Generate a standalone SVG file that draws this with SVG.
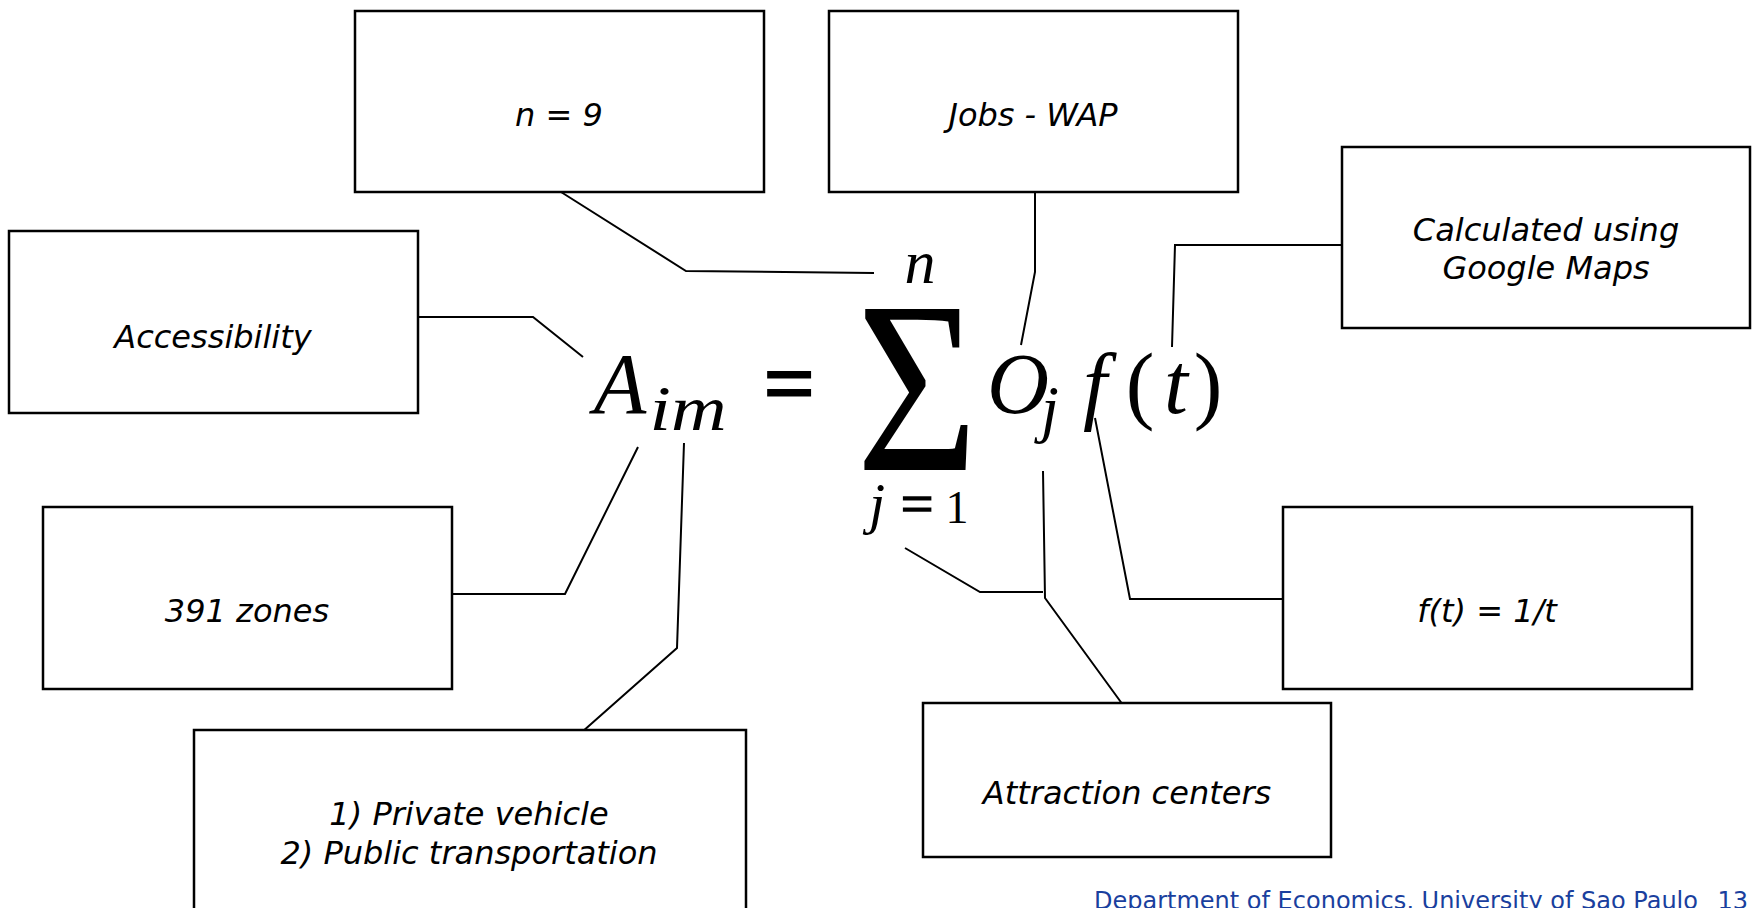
<svg xmlns="http://www.w3.org/2000/svg" width="1753" height="908" viewBox="0 0 1753 908">
<style>
.box{fill:#fff;stroke:#000;stroke-width:2.5}
.lbl{font-family:"DejaVu Sans",Verdana,sans-serif;font-style:italic;font-size:32px;fill:#000;text-anchor:middle}
.con{fill:none;stroke:#000;stroke-width:2}
.m{font-family:"Liberation Serif","Times New Roman",serif;fill:#000;text-anchor:middle}
.mi{font-style:italic}
.foot{font-family:"DejaVu Sans",Verdana,sans-serif;font-size:24px;fill:#1a3f9e}
</style>
<rect width="1753" height="908" fill="#fff"/>
<g id="connectors">
<polyline class="con" points="561,192 686,271 874,273"/>
<polyline class="con" points="418,317 533,317 583,357"/>
<polyline class="con" points="1035,192 1035,272 1021,345"/>
<polyline class="con" points="1342,245 1175,245 1172,347"/>
<polyline class="con" points="452,594 565,594 638,447"/>
<polyline class="con" points="684,443 677,648 582,732"/>
<polyline class="con" points="905,548 980,592 1043,592"/>
<polyline class="con" points="1043,471 1045,598 1123,705"/>
<polyline class="con" points="1095,418 1130,599 1283,599"/>
</g>
<g id="node-n">
<rect class="box" x="355" y="11" width="409" height="181"/>
<text class="lbl" x="559" y="126">n = 9</text>
</g>
<g id="node-jobs">
<rect class="box" x="829" y="11" width="409" height="181"/>
<text class="lbl" x="1033" y="126">Jobs - WAP</text>
</g>
<g id="node-google">
<rect class="box" x="1342" y="147" width="408" height="181"/>
<text class="lbl" x="1546" y="241">Calculated using</text>
<text class="lbl" x="1546" y="279">Google Maps</text>
</g>
<g id="node-accessibility">
<rect class="box" x="9" y="231" width="409" height="182"/>
<text class="lbl" x="213" y="348">Accessibility</text>
</g>
<g id="node-zones">
<rect class="box" x="43" y="507" width="409" height="182"/>
<text class="lbl" x="247" y="622">391 zones</text>
</g>
<g id="node-ft">
<rect class="box" x="1283" y="507" width="409" height="182"/>
<text class="lbl" x="1487" y="622">f(t) = 1/t</text>
</g>
<g id="node-attraction">
<rect class="box" x="923" y="703" width="408" height="154"/>
<text class="lbl" x="1127" y="804">Attraction centers</text>
</g>
<g id="node-modes">
<rect class="box" x="194" y="730" width="552" height="190"/>
<text class="lbl" x="469" y="825">1) Private vehicle</text>
<text class="lbl" x="469" y="864">2) Public transportation</text>
</g>
<g id="formula">
<text class="m mi" x="620" y="413" font-size="86">A</text>
<text class="m mi" x="688" y="430" font-size="64" textLength="77" lengthAdjust="spacingAndGlyphs">im</text>
<text class="m" x="789" y="413" font-size="88" stroke="#000" stroke-width="3">=</text>
<text class="m" x="0" y="0" font-size="246" transform="translate(917,470) scale(0.85,1)">Σ</text>
<text class="m mi" x="920" y="283" font-size="62">n</text>
<text class="m mi" x="877" y="523" font-size="58">j</text>
<text class="m" x="917" y="523" font-size="58" stroke="#000" stroke-width="1.5">=</text>
<text class="m" x="957" y="523" font-size="46">1</text>
<text class="m mi" x="1018" y="413" font-size="86">O</text>
<text class="m mi" x="1050" y="430" font-size="64">j</text>
<text class="m mi" x="1095" y="413" font-size="86">f</text>
<text class="m" x="1140" y="413" font-size="86">(</text>
<text class="m mi" x="1176" y="413" font-size="86">t</text>
<text class="m" x="1208" y="413" font-size="86">)</text>
</g>
<g id="footer">
<text class="foot" x="1094" y="909">Department of Economics, University of Sao Paulo</text>
<text class="foot" x="1748" y="909" text-anchor="end">13</text>
</g>
</svg>
